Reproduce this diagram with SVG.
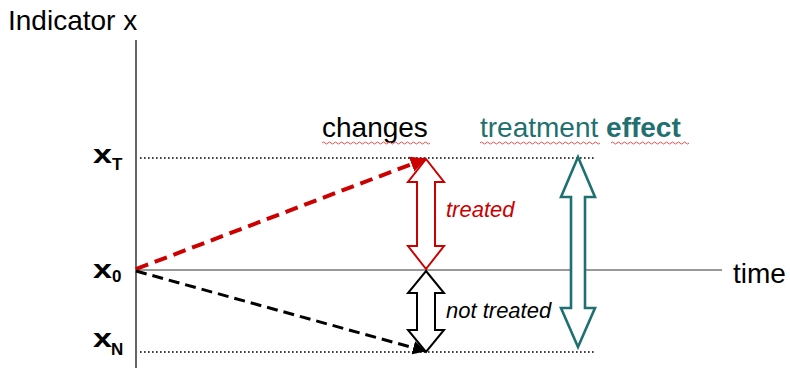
<svg xmlns="http://www.w3.org/2000/svg" width="790" height="368" viewBox="0 0 790 368">
<defs>
<style>
.t{font-family:"Liberation Sans",Arial,sans-serif}
.dot{stroke:#000;stroke-width:1.6;stroke-dasharray:1.6 2.4;fill:none}
.sq{fill:none;stroke:#e05050;stroke-width:1}
.xl{font-size:26px;font-weight:bold}
.sub{font-size:17px;font-weight:bold}
</style>
<marker id="ar" viewBox="0 0 10 10" refX="9" refY="5" markerWidth="4" markerHeight="4" orient="auto" markerUnits="strokeWidth"><path d="M0,0L10,5L0,10z" fill="#cc0000"/></marker>
<marker id="ab" viewBox="0 0 10 10" refX="9" refY="5" markerWidth="4.5" markerHeight="4.5" orient="auto" markerUnits="strokeWidth"><path d="M0,0L10,5L0,10z" fill="#000"/></marker>
</defs>
<rect width="790" height="368" fill="#fff"/>
<g id="axes">
<line x1="136" y1="40" x2="136" y2="368" stroke="#000" stroke-width="1.2"/>
<line x1="136" y1="270" x2="722" y2="270" stroke="#777" stroke-width="1.5"/>
<text class="t" x="8" y="30" font-size="28">Indicator x</text>
<text class="t" x="733" y="283" font-size="28">time</text>
</g>
<g id="levels">
<line class="dot" x1="140" y1="158" x2="595" y2="158"/>
<line class="dot" x1="140" y1="352" x2="595" y2="352"/>
<text class="t xl" x="93" y="163" textLength="19" lengthAdjust="spacingAndGlyphs">x</text>
<text class="t sub" x="112" y="170">T</text>
<text class="t xl" x="93" y="278" textLength="19" lengthAdjust="spacingAndGlyphs">x</text>
<text class="t sub" x="112" y="282">0</text>
<text class="t xl" x="93" y="347" textLength="19" lengthAdjust="spacingAndGlyphs">x</text>
<text class="t sub" x="111" y="355">N</text>
</g>
<g id="connectors">
<line x1="136" y1="269" x2="425" y2="159" stroke="#cc0000" stroke-width="4" stroke-dasharray="13 7" marker-end="url(#ar)"/>
<line x1="136" y1="271" x2="425" y2="351" stroke="#000" stroke-width="3" stroke-dasharray="11 6" marker-end="url(#ab)"/>
</g>
<g id="treated">
<path d="M426,159 L444,182 L435,182 L435,246 L444,246 L426,269 L408,246 L417,246 L417,182 L408,182 Z" fill="#fff" stroke="#cc0000" stroke-width="2"/>
<text class="t" x="446" y="217" font-size="22" font-style="italic" fill="#cc0000">treated</text>
</g>
<g id="not-treated">
<path d="M426,271 L444,293 L435,293 L435,330 L444,330 L426,352 L408,330 L417,330 L417,293 L408,293 Z" fill="#fff" stroke="#000" stroke-width="2"/>
<text class="t" x="446" y="318" font-size="22" font-style="italic">not treated</text>
</g>
<g id="effect">
<path d="M578,157 L595,197 L585,197 L585,308 L595,308 L578,347 L561,308 L571,308 L571,197 L561,197 Z" fill="#fff" stroke="#1f7070" stroke-width="2.6"/>
</g>
<g id="titles">
<text class="t" x="322" y="137" font-size="28">changes</text>
<text class="t" x="480" y="137" font-size="28" fill="#1f7070">treatment <tspan font-weight="bold">effect</tspan></text>
<path class="sq" d="M322,143 q1.5,-2 3,0 t3,0 t3,0 t3,0 t3,0 t3,0 t3,0 t3,0 t3,0 t3,0 t3,0 t3,0 t3,0 t3,0 t3,0 t3,0 t3,0 t3,0 t3,0 t3,0 t3,0 t3,0 t3,0 t3,0 t3,0 t3,0 t3,0 t3,0 t3,0 t3,0 t3,0 t3,0 t3,0 t3,0 t3,0 t3,0"/>
<path class="sq" d="M480,143 q1.5,-2 3,0 t3,0 t3,0 t3,0 t3,0 t3,0 t3,0 t3,0 t3,0 t3,0 t3,0 t3,0 t3,0 t3,0 t3,0 t3,0 t3,0 t3,0 t3,0 t3,0 t3,0 t3,0 t3,0 t3,0 t3,0 t3,0 t3,0 t3,0 t3,0 t3,0 t3,0 t3,0 t3,0 t3,0 t3,0 t3,0 t3,0 t3,0 t3,0 t3,0"/>
<path class="sq" d="M611,143 q1.5,-2 3,0 t3,0 t3,0 t3,0 t3,0 t3,0 t3,0 t3,0 t3,0 t3,0 t3,0 t3,0 t3,0 t3,0 t3,0 t3,0 t3,0 t3,0 t3,0 t3,0 t3,0 t3,0 t3,0 t3,0 t3,0 t3,0"/>
</g>
</svg>
